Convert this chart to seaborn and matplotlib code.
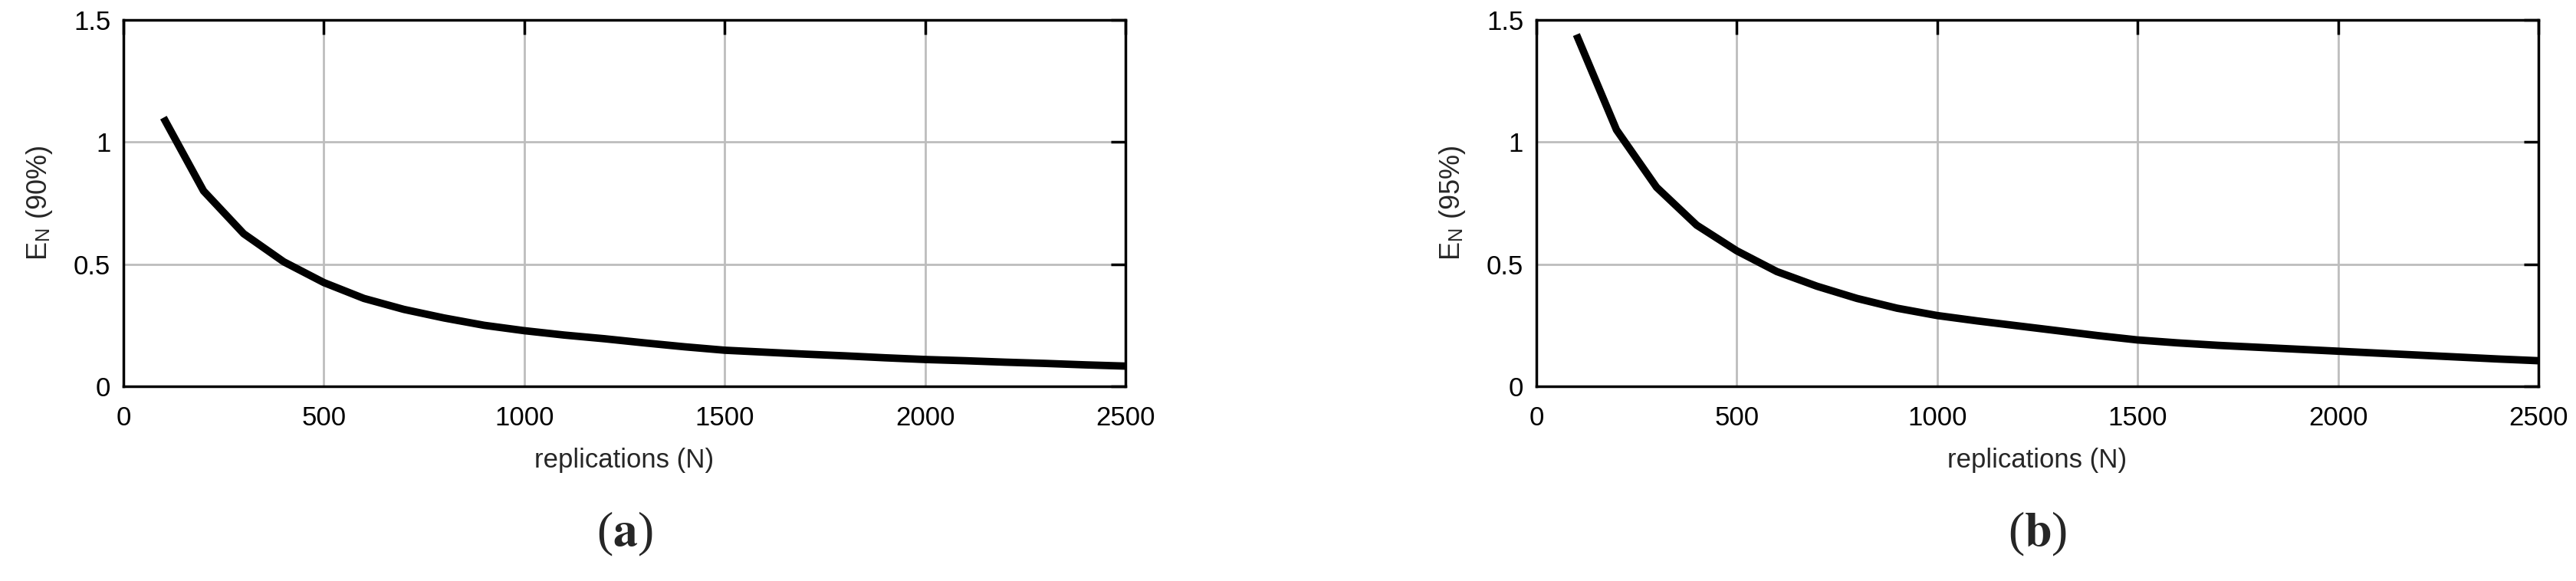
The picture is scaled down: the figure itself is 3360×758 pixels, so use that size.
import pandas as pd
import matplotlib.pyplot as plt
import seaborn as sns

# Données
replications = [100, 200, 300, 400, 500, 600, 700, 800, 900, 1000,
                1100, 1200, 1300, 1400, 1500, 1600, 1700, 1800, 1900, 2000,
                2100, 2200, 2300, 2400, 2500]
en_90 = [1.10, 0.80, 0.625, 0.51, 0.425, 0.36, 0.315, 0.28, 0.25, 0.228,
         0.21, 0.195, 0.178, 0.162, 0.148, 0.14, 0.132, 0.125, 0.117, 0.110,
         0.105, 0.099, 0.094, 0.088, 0.083]
en_95 = [1.44, 1.05, 0.815, 0.66, 0.555, 0.47, 0.41, 0.36, 0.32, 0.29,
         0.268, 0.248, 0.228, 0.208, 0.19, 0.178, 0.168, 0.16, 0.152, 0.144,
         0.136, 0.128, 0.12, 0.112, 0.105]
x_ticks = [0, 500, 1000, 1500, 2000, 2500]
y_ticks = [0, 0.5, 1, 1.5]
panels = ["a", "b"]
ylabels = [r"E$_\mathregular{N}$ (90%)", r"E$_\mathregular{N}$ (95%)"]

sns.set_style("white")
plt.rcParams["font.family"] = ["Liberation Sans", "DejaVu Sans"]
plt.rcParams["mathtext.fontset"] = "stix"

df_a = pd.DataFrame({"N": replications, "E": en_90})
df_b = pd.DataFrame({"N": replications, "E": en_95})

fig = plt.figure(figsize=(33.6, 7.58), dpi=100)
ax_a = fig.add_axes([0.0479, 0.335, 0.389, 0.6307])
ax_b = fig.add_axes([0.5964, 0.335, 0.389, 0.6307])

for ax, df, ylab, lab in zip([ax_a, ax_b], [df_a, df_b], ylabels, panels):
    sns.lineplot(data=df, x="N", y="E", ax=ax, color="black", linewidth=7,
                 solid_joinstyle="round", solid_capstyle="butt")
    ax.set_xlim(0, 2500)
    ax.set_ylim(0, 1.5)
    ax.set_xticks(x_ticks)
    ax.set_yticks(y_ticks)
    ax.set_yticklabels(["0", "0.5", "1", "1.5"])
    ax.grid(True, color="#bdbdbd", linewidth=2)
    ax.set_axisbelow(True)
    for s in ax.spines.values():
        s.set_visible(True)
        s.set_color("black")
        s.set_linewidth(2.5)
    ax.tick_params(direction="in", length=14, width=2.5, top=True, right=True,
                   labelsize=25, colors="black")
    ax.tick_params(axis="x", pad=18)
    ax.tick_params(axis="y", pad=12)
    ax.set_xlabel("replications (N)", fontsize=25, labelpad=16)
    ax.set_ylabel(ylab, fontsize=26, labelpad=18)
    pos = ax.get_position()
    fig.text(pos.x0 + pos.width / 2, 0.08, r"($\mathbf{" + lab + "}$)",
             ha="center", va="center", fontsize=46, family="Liberation Serif")

fig.savefig("out.png", dpi=100, facecolor="white")
